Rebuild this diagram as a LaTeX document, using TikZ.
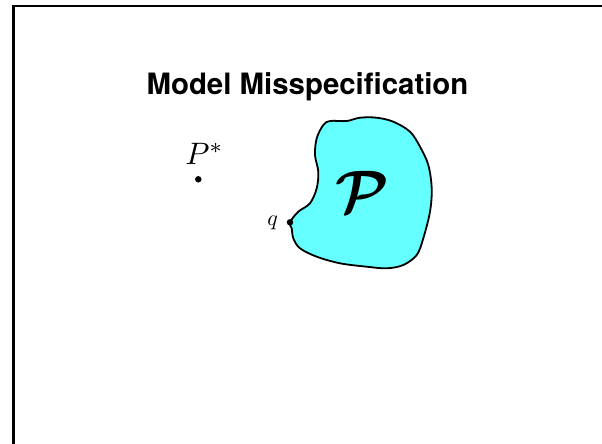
\documentclass[tikz,border=0pt]{standalone}
\usepackage{fontspec}
\setmainfont{TeX Gyre Heros}
\begin{document}
\begin{tikzpicture}[x=1pt,y=-1pt,
  blackdot/.style={circle,fill=black,inner sep=0pt,minimum size=6.5pt},
  frameline/.style={line width=2.2pt,line cap=rect},
  region/.style={draw=black,line width=1.8pt,fill=regioncyan},
  lbl/.style={inner sep=0pt,anchor=base}]
\definecolor{regioncyan}{RGB}{102,255,255}
\useasboundingbox (0,0) rectangle (602,444);
% frame
\draw[frameline] (13.5,450) -- (13.5,6) -- (610,6);
% title
\node[lbl,font=\fontsize{29.4}{31}\selectfont\bfseries] (title) at (307.5,94) {Model Misspecification};
% region
\draw[region] plot[smooth cycle,tension=0.55] coordinates {
 (290,222.3) (298.3,211.7) (310,203.3) (316.7,188.3) (318.3,171.7) (315,155)
 (316.7,138.3) (323.3,125) (330,121) (346.7,121) (360,117.7) (376.7,117.7)
 (393.3,121.7) (410,131.7) (420,146.7) (428.3,165) (431.7,188.3) (430,211.7)
 (423.3,238.3) (416.7,255) (403.3,265) (386.7,268.3) (366.7,266.7) (340,263.3)
 (316.7,256.7) (300,248.3) (293.3,238.3) (291.7,228.3)};
\node[inner sep=0pt,scale=6,font=\boldmath] (calP) at (362,192) {$\mathcal{P}$};
% points
\node[blackdot] (pstar) at (198.3,179.3) {};
\node[lbl,scale=3.1] (pstarlbl) at (204.5,164.3) {$P^*$};
\node[blackdot] (q) at (290,222.3) {};
\node[lbl,scale=2.2] (qlbl) at (272.7,225.5) {$q$};
\end{tikzpicture}
\end{document}
